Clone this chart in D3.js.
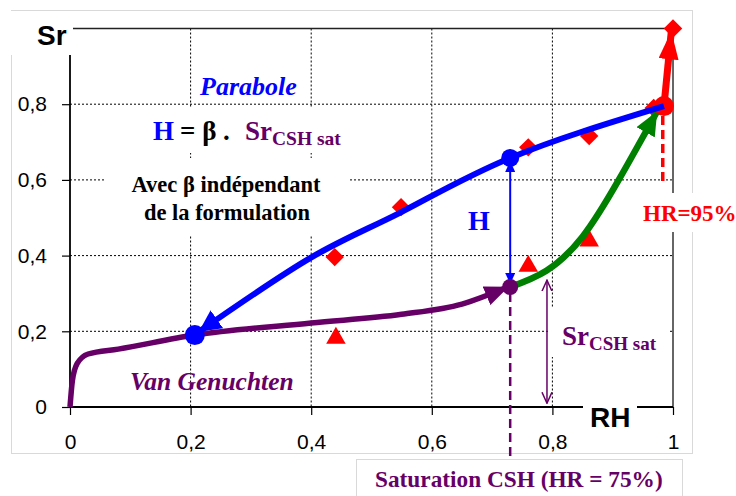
<!DOCTYPE html>
<html>
<head>
<meta charset="utf-8">
<script src="https://cdn.jsdelivr.net/npm/d3@7"></script>
<style>
  body { margin: 0; background: #fff; }
  svg { display: block; }
  .tick text { font-family: "Liberation Sans", Arial, sans-serif; font-size: 21px; fill: #000; }
  .serif { font-family: "Liberation Serif", "Times New Roman", serif; font-weight: bold; }
</style>
</head>
<body>
<div class="chart"></div>
<script>
// Van Genuchten curve (purple)
var vgRH = [0, 0.004, 0.012, 0.03, 0.08, 0.207, 0.4, 0.55, 0.65, 0.726];
var vgSr = [0, 0.07, 0.115, 0.14, 0.153, 0.19, 0.222, 0.245, 0.272, 0.317];

// Parabole (blue), arrow points to the low end
var parRH = [0.215, 0.401, 0.547, 0.73, 0.985];
var parSr = [0.2, 0.396, 0.513, 0.658, 0.795];

// Path from CSH saturation up to HR=95% (green)
var satRH = [0.73, 0.79, 0.85, 0.91, 0.973];
var satSr = [0.317, 0.36, 0.45, 0.6, 0.779];

// red arrow above 95%
var redRH = [0.985, 0.997];
var redSr = [0.795, 0.99];

// measured points
var diaRH = [0.439, 0.549, 0.76, 0.861, 0.968, 1.0];
var diaSr = [0.396, 0.528, 0.686, 0.716, 0.79, 1.0];
var triRH = [0.441, 0.76, 0.861];
var triSr = [0.182, 0.372, 0.439];

// key points: low end of parabole, H top, CSH saturation, HR=95%
var keyNames = ["bas", "haut", "sat", "hr95"];
var keyRH = [0.207, 0.73, 0.73, 0.985];
var keySr = [0.19, 0.658, 0.317, 0.795];

var xTicks = [0, 0.2, 0.4, 0.6, 0.8, 1];
var yTicks = [0, 0.2, 0.4, 0.6, 0.8];
var gridVals = [0.2, 0.4, 0.6, 0.8];

var svgWidth = 736, svgHeight = 496;
var margin = {top: 28.5, left: 70, right: 63, bottom: 89};

var blue = "#0000ff", purple = "#660066", red = "#ff0000", green = "#008000";

var svg = d3.select(".chart").append("svg")
  .attr("width", svgWidth)
  .attr("height", svgHeight);

var x = d3.scaleLinear().domain([0, 1]).range([margin.left, svgWidth - margin.right]);
var y = d3.scaleLinear().domain([0, 1]).range([svgHeight - margin.bottom, margin.top]);

var fmt = function (d) { return String(d).replace(".", ","); };
var zip = function (a, b) { return a.map(function (v, i) { return [v, b[i]]; }); };

// markers
var defs = svg.append("defs");
function headMarker(id, color, len, wid) {
  defs.append("marker")
    .attr("id", id)
    .attr("markerUnits", "userSpaceOnUse")
    .attr("viewBox", "0 0 " + len + " " + wid)
    .attr("markerWidth", len)
    .attr("markerHeight", wid)
    .attr("refX", len - 1)
    .attr("refY", wid / 2)
    .attr("orient", "auto-start-reverse")
    .append("path")
    .attr("d", "M0,0 L" + len + "," + (wid / 2) + " L0," + wid + " Z")
    .attr("fill", color);
}
headMarker("arBlue", blue, 22, 22);
headMarker("arPurple", purple, 24, 20);
headMarker("arGreen", green, 24, 21);
headMarker("arRed", red, 28, 20);
headMarker("arBlueThin", blue, 11, 10);
defs.append("marker")
  .attr("id", "arPurpleOpen")
  .attr("markerUnits", "userSpaceOnUse")
  .attr("viewBox", "0 0 12 12")
  .attr("markerWidth", 12).attr("markerHeight", 12)
  .attr("refX", 11).attr("refY", 6)
  .attr("orient", "auto-start-reverse")
  .append("path")
  .attr("d", "M0,1 L11,6 L0,11")
  .attr("fill", "none").attr("stroke", purple).attr("stroke-width", 1.5);

// outer frame
svg.append("rect").attr("x", 11.5).attr("y", 10.5).attr("width", 681).attr("height", 443)
  .attr("fill", "none").attr("stroke", "#d9d9d9");

// grid
var grid = svg.append("g").attr("stroke", "#000").attr("stroke-width", 1).attr("stroke-dasharray", "2,2");
grid.selectAll(".gx").data(gridVals).enter().append("line")
  .attr("x1", d => x(d)).attr("x2", d => x(d))
  .attr("y1", y(1)).attr("y2", y(0));
grid.selectAll(".gy").data(gridVals).enter().append("line")
  .attr("x1", x(0)).attr("x2", x(1))
  .attr("y1", d => y(d)).attr("y2", d => y(d));

// top and right border
svg.append("line").attr("x1", x(0)).attr("x2", x(1)).attr("y1", y(1)).attr("y2", y(1))
  .attr("stroke", "#222").attr("stroke-width", 1.5);
svg.append("line").attr("x1", x(1)).attr("x2", x(1)).attr("y1", y(1)).attr("y2", y(0))
  .attr("stroke", "#333").attr("stroke-width", 1.5);

// axes
var leftAxis = d3.axisLeft(y).tickValues(yTicks).tickSize(8).tickPadding(15).tickFormat(fmt);
var bottomAxis = d3.axisBottom(x).tickValues(xTicks).tickSize(8).tickPadding(14).tickFormat(fmt);
var gy = svg.append("g").attr("transform", `translate(${x(0)},0)`).call(leftAxis);
var gx = svg.append("g").attr("transform", `translate(0,${y(0)})`).call(bottomAxis);
[gx, gy].forEach(function (g) {
  g.select(".domain").remove();
  g.selectAll(".tick line").attr("stroke", "#000").attr("stroke-width", 1.2);
  g.attr("font-family", null).attr("font-size", null);
});
gx.selectAll(".tick text").attr("dy", "0.95em");
svg.append("line").attr("x1", x(0)).attr("x2", x(0)).attr("y1", 55).attr("y2", y(0))
  .attr("stroke", "#000").attr("stroke-width", 1.8);
svg.append("line").attr("x1", x(0)).attr("x2", x(1)).attr("y1", y(0)).attr("y2", y(0))
  .attr("stroke", "#000").attr("stroke-width", 1.8);

// white boxes behind the labels
var boxes = [
  [11, 11, 62, 44],      // Sr
  [583, 396, 54, 36],    // RH
  [140, 107, 210, 46],   // H = beta . Sr
  [105, 158, 245, 77],   // Avec beta ...
  [548, 308, 122, 49],   // Sr CSH sat
  [640, 193, 96, 39]     // HR=95%
];
svg.selectAll(".box").data(boxes).enter().append("rect")
  .attr("x", d => d[0]).attr("y", d => d[1]).attr("width", d => d[2]).attr("height", d => d[3])
  .attr("fill", "#fff");
svg.append("rect").attr("x", 356.5).attr("y", 459.5).attr("width", 326).attr("height", 45)
  .attr("fill", "#fff").attr("stroke", "#d9d9d9");

// dashed markers of HR
svg.append("line")
  .attr("x1", x(keyRH[2])).attr("x2", x(keyRH[2]))
  .attr("y1", y(keySr[2]) + 6).attr("y2", 459)
  .attr("stroke", purple).attr("stroke-width", 2.5).attr("stroke-dasharray", "9,5");
svg.append("line")
  .attr("x1", x(0.983)).attr("x2", x(0.983))
  .attr("y1", y(keySr[3]) + 10).attr("y2", 185)
  .attr("stroke", red).attr("stroke-width", 3.5).attr("stroke-dasharray", "9,5");

// H and Sr CSH sat double arrows
svg.append("line")
  .attr("x1", x(keyRH[1])).attr("x2", x(keyRH[1]))
  .attr("y1", y(keySr[1]) + 4).attr("y2", y(keySr[2]) - 4)
  .attr("stroke", blue).attr("stroke-width", 2)
  .attr("marker-start", "url(#arBlueThin)").attr("marker-end", "url(#arBlueThin)");
svg.append("line")
  .attr("x1", x(0.791)).attr("x2", x(0.791))
  .attr("y1", y(0.335)).attr("y2", y(0.01))
  .attr("stroke", purple).attr("stroke-width", 1.5)
  .attr("marker-start", "url(#arPurpleOpen)").attr("marker-end", "url(#arPurpleOpen)");

// curves
var lineMono = d3.line().x(d => x(d[0])).y(d => y(d[1])).curve(d3.curveMonotoneX);
var lineSmooth = d3.line().x(d => x(d[0])).y(d => y(d[1])).curve(d3.curveNatural);
function curve(gen, pts, color, w, mk, atStart) {
  svg.append("path")
    .attr("d", gen(pts))
    .attr("fill", "none")
    .attr("stroke", color)
    .attr("stroke-width", w)
    .attr("stroke-linejoin", "round")
    .attr(atStart ? "marker-start" : "marker-end", "url(#" + mk + ")");
}

// measured points under the curves
var sq = d3.symbol().type(d3.symbolSquare).size(170);
svg.selectAll(".dia").data(zip(diaRH, diaSr)).enter().append("path")
  .attr("d", sq)
  .attr("transform", d => `translate(${x(d[0])},${y(d[1])}) rotate(45)`)
  .attr("fill", red);
var tri = d3.symbol().type(d3.symbolTriangle).size(165);
svg.selectAll(".tri").data(zip(triRH, triSr)).enter().append("path")
  .attr("d", tri)
  .attr("transform", d => `translate(${x(d[0])},${y(d[1])})`)
  .attr("fill", red);

curve(lineMono, zip(vgRH, vgSr), purple, 5.5, "arPurple");
curve(lineMono, zip(redRH, redSr), red, 7, "arRed");
curve(lineSmooth, zip(satRH, satSr), green, 6.5, "arGreen");

// key points
var keyColor = {bas: blue, haut: blue, sat: purple, hr95: red};
var keyR = {bas: 10, haut: 9, sat: 8, hr95: 10};
svg.selectAll(".key").data(keyNames).enter().append("circle")
  .attr("cx", (d, i) => x(keyRH[i]))
  .attr("cy", (d, i) => y(keySr[i]))
  .attr("r", d => keyR[d])
  .attr("fill", d => keyColor[d]);

curve(lineSmooth, zip(parRH, parSr), blue, 6, "arBlue", true);

// axis titles
svg.append("text").attr("x", 37).attr("y", 45)
  .attr("font-family", "Liberation Sans, Arial, sans-serif").attr("font-weight", "bold")
  .attr("font-size", 28).text("Sr");
svg.append("text").attr("x", 590).attr("y", 427)
  .attr("font-family", "Liberation Sans, Arial, sans-serif").attr("font-weight", "bold")
  .attr("font-size", 28).text("RH");

// labels
svg.append("text").attr("class", "serif").attr("x", 200).attr("y", 95)
  .attr("font-style", "italic").attr("font-size", 26).attr("fill", blue).text("Parabole");

var form = svg.append("text").attr("class", "serif").attr("x", 153).attr("y", 140).attr("font-size", 27);
form.append("tspan").attr("fill", blue).text("H");
form.append("tspan").attr("fill", "#000").attr("x", 180).text("= β .");
form.append("tspan").attr("fill", purple).attr("x", 245).text("Sr");
form.append("tspan").attr("fill", purple).attr("font-size", 19.5).attr("dy", 5).text("CSH sat");

svg.append("text").attr("class", "serif").attr("x", 226).attr("y", 192)
  .attr("text-anchor", "middle").attr("font-size", 22.5).text("Avec β indépendant");
svg.append("text").attr("class", "serif").attr("x", 227).attr("y", 220)
  .attr("text-anchor", "middle").attr("font-size", 22.5).text("de la formulation");

svg.append("text").attr("class", "serif").attr("x", 468).attr("y", 230)
  .attr("font-size", 28).attr("fill", blue).text("H");

svg.append("text").attr("class", "serif").attr("x", 643).attr("y", 221)
  .attr("font-size", 23).attr("fill", red).text("HR=95%");

var src = svg.append("text").attr("class", "serif").attr("x", 562).attr("y", 345)
  .attr("font-size", 27).attr("fill", purple);
src.append("tspan").text("Sr");
src.append("tspan").attr("font-size", 19).attr("dy", 5).text("CSH sat");

svg.append("text").attr("class", "serif").attr("x", 130).attr("y", 390)
  .attr("font-style", "italic").attr("font-size", 25.5).attr("fill", purple).text("Van Genuchten");

svg.append("text").attr("class", "serif").attr("x", 375).attr("y", 487)
  .attr("font-size", 23.3).attr("fill", purple).text("Saturation CSH (HR = 75%)");
</script>
</body>
</html>
